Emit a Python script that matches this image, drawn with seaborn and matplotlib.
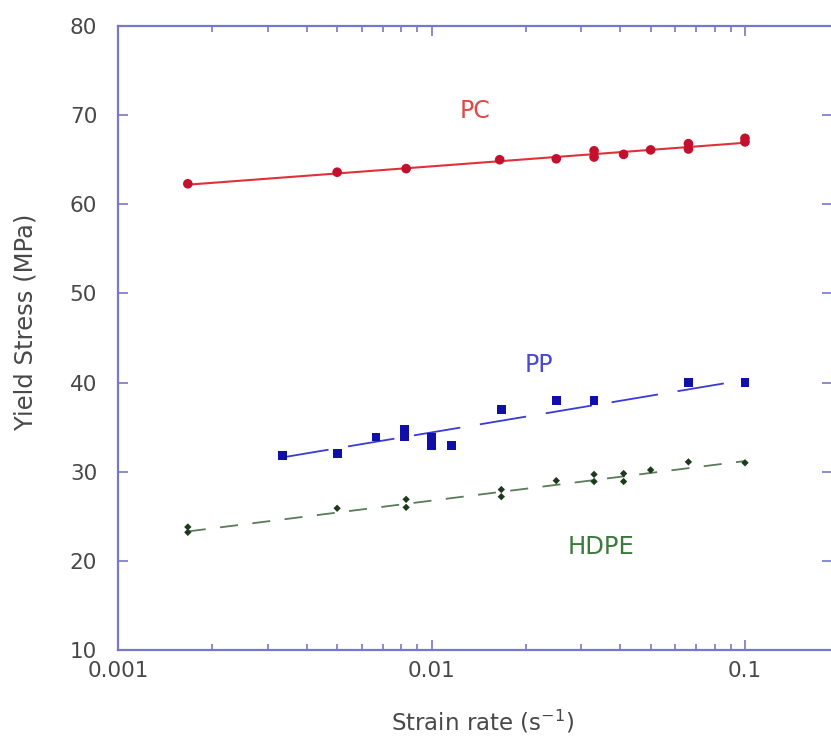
import matplotlib
matplotlib.use("Agg")
import matplotlib.pyplot as plt
import seaborn as sns
import numpy as np
import pandas as pd
from matplotlib.ticker import LogLocator, FixedLocator, NullFormatter

# ---- data ----
pc_rate = [0.00167, 0.005, 0.0083, 0.0165, 0.025, 0.033, 0.033, 0.041, 0.05, 0.066, 0.066, 0.1, 0.1]
pc_stress = [62.3, 63.6, 64.0, 65.0, 65.1, 65.3, 66.0, 65.6, 66.1, 66.2, 66.8, 67.0, 67.4]
pc_fit_rate = [0.00167, 0.1]
pc_fit_stress = [62.2, 66.9]

pp_rate = [0.00334, 0.005, 0.00665, 0.0082, 0.0082, 0.01, 0.01, 0.0116, 0.0167, 0.025, 0.033, 0.066, 0.1]
pp_stress = [31.85, 32.0, 33.9, 34.8, 33.9, 33.9, 32.9, 32.9, 37.0, 38.0, 38.0, 40.0, 40.0]
pp_fit_rate = [0.00334, 0.1]
pp_fit_stress = [31.6, 40.3]

hdpe_rate = [0.00167, 0.00167, 0.005, 0.0083, 0.0083, 0.0167, 0.0167, 0.025, 0.033, 0.033, 0.041, 0.041, 0.05, 0.066, 0.1]
hdpe_stress = [23.2, 23.8, 25.9, 26.9, 26.0, 27.2, 28.0, 29.0, 29.7, 28.9, 29.8, 28.9, 30.2, 31.1, 31.0]
hdpe_fit_rate = [0.00167, 0.1]
hdpe_fit_stress = [23.3, 31.2]

labels = ["PC", "PP", "HDPE"]
label_rate = [0.0138, 0.0220, 0.0347]
label_stress = [70.5, 41.95, 21.5]

x_ticks = [0.001, 0.01, 0.1]
x_ticklabels = ["0.001", "0.01", "0.1"]
y_ticks = [10, 20, 30, 40, 50, 60, 70, 80]

# ---- styling ----
sns.set_style("ticks")
plt.rcParams['font.family'] = ['DejaVu Sans']

W, H = 831, 742
fig = plt.figure(figsize=(W / 100, H / 100), dpi=100)
xmin, xmax = 0.001, 0.19
decade_px = 313.5
left_px, top_px, bottom_px = 118, 26, 650
width_px = (np.log10(xmax) - np.log10(xmin)) * decade_px
ax = fig.add_axes([left_px / W, 1 - bottom_px / H, width_px / W, (bottom_px - top_px) / H])

spine_col = "#7777cc"
pc_line, pc_mark = "#e0303a", "#c4102c"
pp_line, pp_mark = "#3a3ad8", "#1010a8"
hd_line, hd_mark = "#5a7a5a", "#1e3a1e"
txt_col = "#484848"

df_pc = pd.DataFrame({"rate": pc_rate, "stress": pc_stress})
df_pp = pd.DataFrame({"rate": pp_rate, "stress": pp_stress})
df_hd = pd.DataFrame({"rate": hdpe_rate, "stress": hdpe_stress})

ax.set_xscale("log")

sns.lineplot(x=pc_fit_rate, y=pc_fit_stress, ax=ax, color=pc_line, lw=1.5, zorder=2)
sns.lineplot(x=pp_fit_rate, y=pp_fit_stress, ax=ax, color=pp_line, lw=1.3,
             zorder=2).lines[-1].set_dashes([26, 11])
sns.lineplot(x=hdpe_fit_rate, y=hdpe_fit_stress, ax=ax, color=hd_line, lw=1.3,
             zorder=2).lines[-1].set_dashes([10, 8])

sns.scatterplot(data=df_pc, x="rate", y="stress", ax=ax, color=pc_mark, marker="o",
                s=48, edgecolor="none", zorder=3)
sns.scatterplot(data=df_pp, x="rate", y="stress", ax=ax, color=pp_mark, marker="s",
                s=40, edgecolor="none", zorder=3)
sns.scatterplot(data=df_hd, x="rate", y="stress", ax=ax, color=hd_mark, marker="D",
                s=14, edgecolor="none", zorder=3)

label_cols = ["#e04848", "#4848d8", "#3a7a3a"]
label_sizes = [17, 17, 17.5]
for t, xr, ys, c, fs in zip(labels, label_rate, label_stress, label_cols, label_sizes):
    ax.text(xr, ys, t, color=c, fontsize=fs, ha="center", va="center")

ax.set_xlim(xmin, xmax)
ax.set_ylim(10, 80)
ax.xaxis.set_major_locator(FixedLocator(x_ticks))
ax.set_xticklabels(x_ticklabels)
ax.xaxis.set_minor_locator(LogLocator(base=10, subs=np.arange(2, 10)))
ax.xaxis.set_minor_formatter(NullFormatter())
ax.set_yticks(y_ticks)

for s in ax.spines.values():
    s.set_color(spine_col)
    s.set_linewidth(1.6)
    s.set_visible(True)

ax.tick_params(which="both", direction="in", top=True, right=True, color=spine_col,
               width=1.2, labelcolor=txt_col, labelsize=15.5)
ax.tick_params(which="major", length=7)
ax.tick_params(which="minor", length=4)
ax.tick_params(axis="y", pad=15)
ax.tick_params(axis="x", pad=8)

ax.set_xlabel("Strain rate (s$^{-1}$)", fontsize=16.5, color=txt_col)
ax.set_ylabel("Yield Stress (MPa)", fontsize=17.5, color=txt_col)
ax.xaxis.set_label_coords(0.51, -0.094)
ax.yaxis.set_label_coords(-0.113, 0.526)

fig.savefig("out.png", dpi=100)
